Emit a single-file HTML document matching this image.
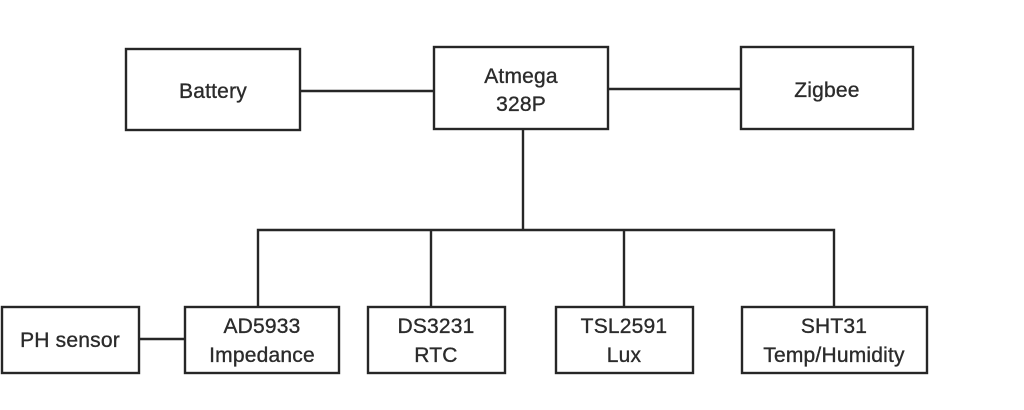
<!DOCTYPE html>
<html><head><meta charset="utf-8"><style>
html,body{margin:0;padding:0;background:#fff;}
svg{display:block;}
text{font-family:"Liberation Sans",sans-serif;font-size:21px;fill:#2b2b2b;stroke:#2b2b2b;stroke-width:0.35px;text-anchor:middle;letter-spacing:0.2px;}
</style></head><body>
<svg width="1024" height="410" viewBox="0 0 1024 410" xmlns="http://www.w3.org/2000/svg">
<g fill="#fff" stroke="#262626" stroke-width="2.4">
<rect x="126" y="49" width="174" height="81"/>
<rect x="434" y="47" width="174" height="82"/>
<rect x="741" y="47" width="172" height="82"/>
<rect x="2" y="307" width="137" height="66"/>
<rect x="185" y="307" width="154" height="66"/>
<rect x="368" y="307" width="137" height="66"/>
<rect x="556" y="307" width="137" height="66"/>
<rect x="742" y="307" width="185" height="66"/>
</g>
<g stroke="#262626" stroke-width="2.4" fill="none">
<line x1="300" y1="91" x2="434" y2="91"/>
<line x1="608" y1="89" x2="741" y2="89"/>
<line x1="523" y1="129" x2="523" y2="230"/>
<polyline points="258,307 258,230 834,230 834,307"/>
<line x1="431" y1="230" x2="431" y2="307"/>
<line x1="624" y1="230" x2="624" y2="307"/>
<line x1="139" y1="339" x2="185" y2="339"/>
</g>
<text x="213" y="98">Battery</text>
<text x="521" y="83">Atmega</text>
<text x="521" y="111">328P</text>
<text x="827" y="97">Zigbee</text>
<text x="70" y="347">PH sensor</text>
<text x="262" y="333">AD5933</text>
<text x="262" y="362">Impedance</text>
<text x="436" y="333">DS3231</text>
<text x="436" y="362">RTC</text>
<text x="624" y="333">TSL2591</text>
<text x="624" y="362">Lux</text>
<text x="834" y="333">SHT31</text>
<text x="834" y="362">Temp/Humidity</text>
</svg>
</body></html>
